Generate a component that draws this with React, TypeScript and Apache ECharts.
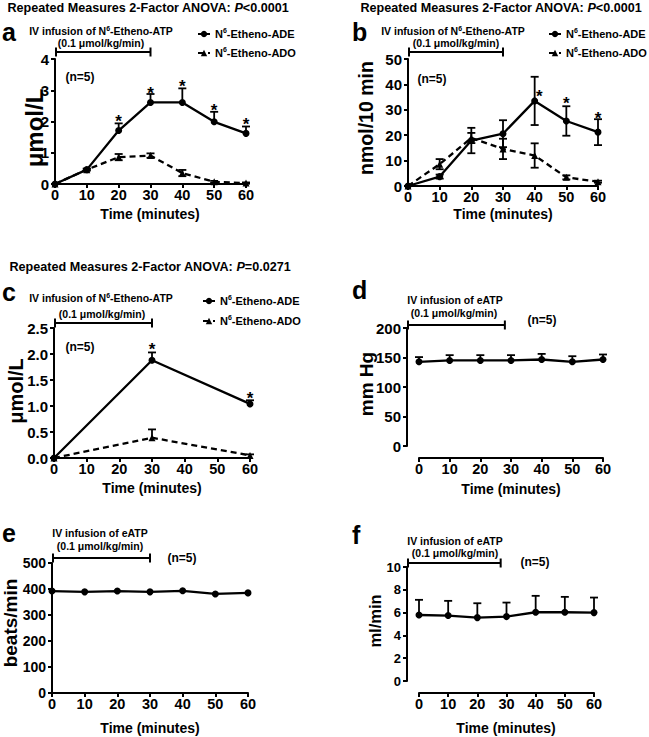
import React, { useEffect, useRef } from 'react';
import * as echarts from 'echarts';

// ---------- data ----------
const TIME = [0, 10, 20, 30, 40, 50, 60];
const TIME_C = [0, 30, 60];

const ADE_NAME = 'N6-Etheno-ADE';
const ADO_NAME = 'N6-Etheno-ADO';

// panel a: plasma (µmol/L)
const aADE = [0, 0.46, 1.71, 2.61, 2.61, 1.99, 1.62];
const aADEerr = [0, 0.03, 0.23, 0.27, 0.45, 0.32, 0.22];
const aADO = [0, 0.46, 0.86, 0.91, 0.35, 0.07, 0.03];
const aADOerr = [0, 0.03, 0.1, 0.07, 0.1, 0.03, 0.02];
const aStarX = [20, 30, 40, 50, 60];
const aStarY = [2.1, 3.0, 3.21, 2.45, 2.0];

// panel b: urinary excretion (nmol/10 min)
const bADE = [0, 3.7, 17.9, 20.6, 33.5, 25.6, 21.2];
const bADEerr = [0, 0.8, 5, 5.3, 9.5, 5.8, 5.1];
const bADO = [0, 8.6, 18.9, 14.6, 12, 3.4, 1.7];
const bADOerr = [0, 2, 2, 4, 4.8, 0.8, 0.4];
const bStarX = [41.5, 50, 60];
const bStarY = [36.4, 33.8, 27.8];

// panel c: renal venous (µmol/L)
const cADE = [0, 1.88, 1.04];
const cADEerr = [0, 0.15, 0.07];
const cADO = [0, 0.39, 0.05];
const cADOerr = [0, 0.16, 0.02];
const cStarX = [30, 60];
const cStarY = [2.14, 1.21];

// panel d: mm Hg
const dMAP = [142.7, 145, 145, 145, 146.6, 142.7, 146.6];
const dErr = [8, 9, 9, 9, 9.5, 9.5, 8.5];
// panel e: beats/min
const eHR = [392, 389, 392, 389, 393, 381, 385];
// panel f: ml/min
const fFlow = [5.79, 5.74, 5.56, 5.65, 6.03, 6.03, 6.0];
const fErr = [1.33, 1.29, 1.26, 1.23, 1.44, 1.35, 1.32];

const X_TICKS = [0, 60, 10];
const Y_MAX = [4, 50, 2.5, 200, 500, 10];
const Y_STEP = [1, 10, 0.5, 50, 100, 2];
const INFUSION_END = [30, 30, 30, 28, 30, 28];

// ---------- layout ----------
const FF = '"Liberation Sans", Arial, Helvetica, sans-serif';
const GRIDS = [
  { left: 55, top: 59, width: 191, height: 125 },
  { left: 408, top: 59, width: 190, height: 127 },
  { left: 54, top: 328, width: 196, height: 130 },
  { left: 419, top: 328, width: 184, height: 118 },
  { left: 52, top: 563, width: 196, height: 130 },
  { left: 419, top: 567, width: 175, height: 114 },
];
const AXIS_OFFSET = [0, 0, 0, 12, 0, 12];
const BRACKET_GAP = [7, 7, 5, 3, 5, 4];
const YLAB_FONT = [15, 15, 15, 15, 14, 13];

const pairs = (xs: number[], ys: number[]) => xs.map((x, i) => [x, ys[i]]);

const lineSeries = (idx: number, name: string, xs: number[], ys: number[], dashed: boolean) => ({
  type: 'line',
  name,
  xAxisIndex: idx,
  yAxisIndex: idx,
  data: pairs(xs, ys),
  symbol: dashed ? 'triangle' : 'circle',
  symbolSize: 7,
  itemStyle: { color: '#000' },
  lineStyle: { color: '#000', width: 2.3, type: dashed ? [6, 4] : 'solid' },
  z: 3,
  silent: true,
});

const errSeries = (idx: number, xs: number[], ys: number[], errs: number[], both: boolean) => ({
  type: 'custom',
  xAxisIndex: idx,
  yAxisIndex: idx,
  silent: true,
  z: 2,
  data: xs.map((x, i) => [x, ys[i], errs[i]]),
  encode: { x: 0, y: 1 },
  renderItem: (params: any, api: any) => {
    const x = api.value(0);
    const y = api.value(1);
    const e = api.value(2);
    if (!e) return null;
    const top = api.coord([x, y + e]);
    const bot = both ? api.coord([x, y - e]) : api.coord([x, y]);
    const st = { stroke: '#000', lineWidth: 1.8 };
    const children: any[] = [
      { type: 'line', shape: { x1: top[0], y1: top[1], x2: bot[0], y2: bot[1] }, style: st },
      { type: 'line', shape: { x1: top[0] - 4, y1: top[1], x2: top[0] + 4, y2: top[1] }, style: st },
    ];
    if (both) {
      children.push({ type: 'line', shape: { x1: bot[0] - 4, y1: bot[1], x2: bot[0] + 4, y2: bot[1] }, style: st });
    }
    return { type: 'group', children };
  },
});

const starSeries = (idx: number, xs: number[], ys: number[]) => ({
  type: 'custom',
  xAxisIndex: idx,
  yAxisIndex: idx,
  silent: true,
  z: 4,
  data: pairs(xs, ys),
  encode: { x: 0, y: 1 },
  renderItem: (params: any, api: any) => {
    const c = api.coord([api.value(0), api.value(1)]);
    return {
      type: 'text',
      x: c[0],
      y: c[1] + 3,
      style: {
        text: '*',
        fill: '#000',
        fontSize: 17,
        fontWeight: 'bold',
        fontFamily: FF,
        align: 'center',
        verticalAlign: 'middle',
      },
    };
  },
});

const bracketSeries = (idx: number) => ({
  type: 'custom',
  xAxisIndex: idx,
  yAxisIndex: idx,
  silent: true,
  z: 4,
  data: [[0, INFUSION_END[idx]]],
  renderItem: (params: any, api: any) => {
    const cs = params.coordSys;
    const x0 = cs.x - AXIS_OFFSET[idx];
    const x1 = api.coord([api.value(1), 0])[0];
    const y = cs.y - BRACKET_GAP[idx];
    const st = { stroke: '#000', lineWidth: 2 };
    return {
      type: 'group',
      children: [
        { type: 'line', shape: { x1: x0, y1: y, x2: x1, y2: y }, style: st },
        { type: 'line', shape: { x1: x0 + 1, y1: y - 4.5, x2: x0 + 1, y2: y + 4.5 }, style: st },
        { type: 'line', shape: { x1: x1, y1: y - 4.5, x2: x1, y2: y + 4.5 }, style: st },
      ],
    };
  },
});

const txt = (x: number, y: number, text: string, size: number, align = 'center', extra: any = {}) => ({
  type: 'text',
  x,
  y,
  silent: true,
  ...extra,
  style: {
    text,
    fill: '#000',
    fontSize: size,
    fontWeight: 'bold',
    fontFamily: FF,
    align,
    verticalAlign: 'middle',
    textAlign: align,
    textVerticalAlign: 'middle',
    rich: {
      sup: { fontSize: 7, fontWeight: 'bold', fontFamily: FF, fill: '#000', verticalAlign: 'top', lineHeight: 12 },
      it: { fontSize: size, fontWeight: 'bold', fontStyle: 'italic', fontFamily: FF, fill: '#000' },
    },
  },
});

const ytitle = (x: number, y: number, text: string, size: number) =>
  txt(x, y, text, size, 'center', { rotation: Math.PI / 2 });

const legendFor = (left: number, top: number, gap: number) => ({
  left,
  top,
  padding: 0,
  orient: 'vertical',
  itemWidth: 12,
  itemHeight: 8,
  itemGap: gap,
  selectedMode: false,
  data: [ADE_NAME, ADO_NAME],
  formatter: (n: string) => n.replace('N6', 'N{sup|6}'),
  textStyle: {
    color: '#000',
    fontSize: 11,
    fontWeight: 'bold',
    fontFamily: FF,
    lineHeight: 14,
    rich: {
      sup: { fontSize: 7, fontWeight: 'bold', fontFamily: FF, color: '#000', verticalAlign: 'top', lineHeight: 14 },
    },
  },
});

export default function App() {
  const ref = useRef<HTMLDivElement>(null);
  useEffect(() => {
    document.body.style.margin = '0';
    const chart = echarts.init(ref.current!, null, { renderer: 'svg' });
    const axisLine = { show: true, onZero: false, lineStyle: { color: '#000', width: 2 } };
    const axisTick = { show: true, length: 4, lineStyle: { color: '#000', width: 2 } };

    const xAxis = GRIDS.map((g, i) => ({
      type: 'value',
      gridIndex: i,
      min: X_TICKS[0],
      max: X_TICKS[1],
      interval: X_TICKS[2],
      offset: AXIS_OFFSET[i],
      axisLine,
      axisTick,
      splitLine: { show: false },
      axisLabel: { color: '#000', fontWeight: 'bold', fontSize: 14.5, fontFamily: FF, margin: 3 },
    }));
    const yAxis = GRIDS.map((g, i) => ({
      type: 'value',
      gridIndex: i,
      min: 0,
      max: Y_MAX[i],
      interval: Y_STEP[i],
      offset: AXIS_OFFSET[i],
      axisLine,
      axisTick,
      splitLine: { show: false },
      axisLabel: {
        color: '#000',
        fontWeight: 'bold',
        fontSize: YLAB_FONT[i],
        fontFamily: FF,
        margin: 6,
        formatter: (v: number) => (i === 2 ? v.toFixed(1) : String(v)),
      },
    }));

    const series: any[] = [
      // a
      errSeries(0, TIME, aADE, aADEerr, false),
      errSeries(0, TIME, aADO, aADOerr, true),
      lineSeries(0, ADO_NAME, TIME, aADO, true),
      lineSeries(0, ADE_NAME, TIME, aADE, false),
      starSeries(0, aStarX, aStarY),
      bracketSeries(0),
      // b
      errSeries(1, TIME, bADE, bADEerr, true),
      errSeries(1, TIME, bADO, bADOerr, true),
      lineSeries(1, ADO_NAME, TIME, bADO, true),
      lineSeries(1, ADE_NAME, TIME, bADE, false),
      starSeries(1, bStarX, bStarY),
      bracketSeries(1),
      // c
      errSeries(2, TIME_C, cADE, cADEerr, false),
      errSeries(2, TIME_C, cADO, cADOerr, false),
      lineSeries(2, ADO_NAME, TIME_C, cADO, true),
      lineSeries(2, ADE_NAME, TIME_C, cADE, false),
      starSeries(2, cStarX, cStarY),
      bracketSeries(2),
      // d
      errSeries(3, TIME, dMAP, dErr, false),
      lineSeries(3, 'MAP', TIME, dMAP, false),
      bracketSeries(3),
      // e
      lineSeries(4, 'HR', TIME, eHR, false),
      bracketSeries(4),
      // f
      errSeries(5, TIME, fFlow, fErr, false),
      lineSeries(5, 'RBF', TIME, fFlow, false),
      bracketSeries(5),
    ];

    const infusionATP = 'IV infusion of N{sup|6}-Etheno-ATP';
    const infusionE = 'IV infusion of eATP';
    const rate = '(0.1 \u03bcmol/kg/min)';
    const anovaA = 'Repeated Measures 2-Factor ANOVA: {it|P}<0.0001';
    const anovaC = 'Repeated Measures 2-Factor ANOVA: {it|P}=0.0271';

    const graphic: any[] = [
      // titles
      txt(148, 8, anovaA, 12.6),
      txt(501, 8, anovaA, 12.6),
      txt(150, 267, anovaC, 12.6),
      // panel letters
      txt(2, 32, 'a', 25, 'left'),
      txt(352, 32, 'b', 25, 'left'),
      txt(2, 292, 'c', 25, 'left'),
      txt(352, 290, 'd', 25, 'left'),
      txt(2, 533, 'e', 25, 'left'),
      txt(352, 535, 'f', 25, 'left'),
      // infusion labels
      txt(101, 31, infusionATP, 10.5),
      txt(101, 43, rate, 10.5),
      txt(453, 31, infusionATP, 10.5),
      txt(456, 43, rate, 10.5),
      txt(101, 298, infusionATP, 10.5),
      txt(102, 314, rate, 10.5),
      txt(455, 300, infusionE, 10.5),
      txt(454, 313, rate, 10.5),
      txt(100, 533, infusionE, 10.5),
      txt(100, 546, rate, 10.5),
      txt(455, 541, infusionE, 10.5),
      txt(455, 553, rate, 10.5),
      // n=5
      txt(80, 77, '(n=5)', 12),
      txt(432, 79, '(n=5)', 12),
      txt(80, 347, '(n=5)', 12),
      txt(542, 320, '(n=5)', 12),
      txt(182, 558, '(n=5)', 12),
      txt(535, 562, '(n=5)', 12),
      // x titles
      txt(150, 214, 'Time (minutes)', 14),
      txt(503, 214, 'Time (minutes)', 14),
      txt(152, 488, 'Time (minutes)', 14),
      txt(511, 489, 'Time (minutes)', 14),
      txt(150, 728, 'Time (minutes)', 14),
      txt(506, 728, 'Time (minutes)', 14),
      // y titles
      ytitle(34, 128, '\u03bcmol/L', 24),
      ytitle(366, 118, 'nmol/10 min', 19.5),
      ytitle(16, 391, '\u03bcmol/L', 20),
      ytitle(366, 384, 'mm Hg', 19),
      ytitle(10, 623, 'beats/min', 19),
      ytitle(375, 621, 'ml/min', 16.5),
    ];

    chart.setOption({
      animation: false,
      backgroundColor: '#fff',
      grid: GRIDS.map((g) => ({ ...g, containLabel: false })),
      xAxis,
      yAxis,
      legend: [legendFor(197, 27, 5), legendFor(548, 27, 5), legendFor(202, 294, 6)],
      series,
      graphic,
    });
    return () => chart.dispose();
  }, []);
  return <div ref={ref} style={{ position: 'absolute', left: 0, top: 0, width: 649, height: 737, background: '#fff' }} />;
}
